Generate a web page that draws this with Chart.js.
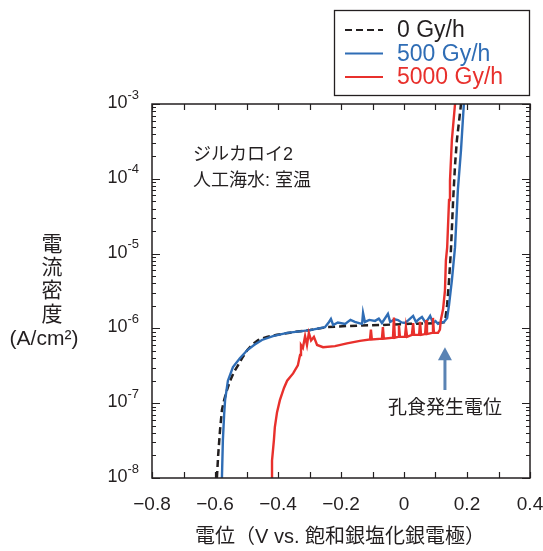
<!DOCTYPE html>
<html>
<head>
<meta charset="utf-8">
<script src="https://cdn.jsdelivr.net/npm/chart.js@4/dist/chart.umd.min.js"></script>
<style>
  html, body { margin: 0; padding: 0; background: #fff; }
  #wrap { width: 543px; height: 551px; }
</style>
</head>
<body>
<div id="wrap"><canvas id="kurve" width="543" height="551"></canvas></div>
<script>
// Zircaloy-2 anodic polarization curves (potential V vs Ag/AgCl, current density A/cm2)
const seriesLabels = ['0 Gy/h', '500 Gy/h', '5000 Gy/h'];

// 0 Gy/h
const potential0 = [-0.594, -0.590, -0.584, -0.578, -0.571, -0.562, -0.552, -0.540, -0.527, -0.514,
  -0.498, -0.483, -0.463, -0.435, -0.403, -0.346, -0.298, -0.244, -0.171, -0.076,
  0.019, 0.114, 0.130, 0.137, 0.143, 0.149, 0.156, 0.162, 0.168, 0.181];
const current0 = [1.0e-8, 2.0e-8, 4.4e-8, 8.1e-8, 1.1e-7, 1.5e-7, 2.0e-7, 2.6e-7, 3.2e-7, 4.0e-7,
  5.1e-7, 6.0e-7, 7.0e-7, 7.7e-7, 8.2e-7, 9.0e-7, 9.5e-7, 1.04e-6, 1.08e-6, 1.11e-6,
  1.15e-6, 1.18e-6, 1.22e-6, 2.06e-6, 4.4e-6, 1.12e-5, 5.2e-5, 1.53e-4, 3.3e-4, 1.0e-3];

// 500 Gy/h
const potential500 = [-0.578, -0.575, -0.571, -0.568, -0.559, -0.543, -0.521, -0.498, -0.476, -0.451,
  -0.416, -0.371, -0.298, -0.251, -0.238, -0.232, -0.225, -0.210, -0.187, -0.170,
  -0.156, -0.140, -0.133, -0.130, -0.124, -0.110, -0.092, -0.080, -0.070, -0.051,
  -0.044, -0.030, -0.019, -0.008, 0.003, 0.015, 0.029, 0.038, 0.048, 0.057,
  0.067, 0.075, 0.083, 0.092, 0.100, 0.108, 0.120, 0.127, 0.137, 0.143,
  0.152, 0.162, 0.171, 0.181, 0.190];
const current500 = [1.0e-8, 3.2e-8, 7.0e-8, 1.1e-7, 2.0e-7, 3.05e-7, 4.0e-7, 5.1e-7, 6.0e-7, 7.0e-7,
  7.9e-7, 8.7e-7, 9.5e-7, 1.04e-6, 1.22e-6, 1.34e-6, 1.11e-6, 1.2e-6, 1.15e-6, 1.3e-6,
  1.22e-6, 1.17e-6, 1.15e-6, 1.61e-6, 1.22e-6, 1.3e-6, 1.26e-6, 1.35e-6, 1.18e-6, 1.56e-6,
  1.22e-6, 1.32e-6, 1.29e-6, 1.2e-6, 1.18e-6, 1.3e-6, 1.47e-6, 1.22e-6, 1.34e-6, 1.42e-6,
  1.22e-6, 1.3e-6, 1.47e-6, 1.18e-6, 1.25e-6, 1.15e-6, 1.2e-6, 1.22e-6, 1.38e-6, 2.06e-6,
  4.4e-6, 1.22e-5, 7.1e-5, 2.43e-4, 1.0e-3];

// 5000 Gy/h
const potential5000 = [-0.419, -0.419, -0.413, -0.410, -0.403, -0.394, -0.381, -0.371, -0.352, -0.337,
  -0.330, -0.327, -0.321, -0.314, -0.308, -0.302, -0.295, -0.286, -0.276, -0.257,
  -0.219, -0.181, -0.140, -0.108, -0.105, -0.102, -0.070, -0.067, -0.064, -0.035,
  -0.032, -0.029, -0.019, -0.016, -0.013, 0.003, 0.006, 0.010, 0.025, 0.029,
  0.032, 0.048, 0.051, 0.054, 0.067, 0.070, 0.073, 0.089, 0.092, 0.095,
  0.108, 0.114, 0.117, 0.124, 0.130, 0.133, 0.137, 0.143, 0.146, 0.152, 0.162];
const current5000 = [1.0e-8, 1.7e-8, 3.2e-8, 4.8e-8, 7.6e-8, 1.1e-7, 1.6e-7, 2.0e-7, 2.5e-7, 3.2e-7,
  4.4e-7, 6.0e-7, 5.5e-7, 7.9e-7, 6.0e-7, 8.7e-7, 6.9e-7, 7.7e-7, 6.0e-7, 5.6e-7,
  5.8e-7, 6.3e-7, 6.8e-7, 7.1e-7, 9.6e-7, 7.1e-7, 7.3e-7, 1.04e-6, 7.3e-7, 7.5e-7,
  1.4e-6, 7.5e-7, 7.7e-7, 1.1e-6, 7.7e-7, 7.7e-7, 1.04e-6, 7.7e-7, 8.2e-7, 1.18e-6,
  8.2e-7, 8.2e-7, 1.22e-6, 8.2e-7, 8.4e-7, 1.29e-6, 8.4e-7, 8.7e-7, 1.38e-6, 8.7e-7,
  8.7e-7, 9.6e-7, 1.3e-6, 1.8e-6, 3.2e-6, 8.1e-6, 1.2e-5, 5.2e-5, 9.5e-5, 3.3e-4, 1.0e-3];

const xTicks = [-0.8, -0.6, -0.4, -0.2, 0, 0.2, 0.4];
const yExponents = [-8, -7, -6, -5, -4, -3];

// arrow for pitting potential
const pitPotential = 0.13;
const arrowTip = 5.6e-7;
const arrowTail = 1.5e-7;
const pitLabelY = 8.5e-8;

const ink = '#231f20';
const blue = '#2f6db5';
const red = '#e8302c';
const arrowCol = '#5a83b4';
const fam = '"Liberation Sans", "Noto Sans CJK JP", sans-serif';

function punkte(xs, ys) {
    return xs.map((v, i) => ({ x: v, y: ys[i] }));
}

const rahmen = {
    id: 'rahmen',
    afterDraw(chart) {
        const ctx = chart.ctx;
        const a = chart.chartArea;
        const xs = chart.scales.x;
        const ys = chart.scales.y;
        ctx.save();

        // frame
        ctx.strokeStyle = ink;
        ctx.lineWidth = 1.5;
        ctx.strokeRect(a.left, a.top, a.right - a.left, a.bottom - a.top);

        // x ticks, inward, every 0.1
        ctx.lineWidth = 1.2;
        ctx.beginPath();
        for (let i = 0; i <= 12; i++) {
            const px = Math.round(xs.getPixelForValue(-0.8 + i * 0.1)) + 0.5;
            ctx.moveTo(px, a.bottom); ctx.lineTo(px, a.bottom - 6);
            ctx.moveTo(px, a.top); ctx.lineTo(px, a.top + 6);
        }
        // y ticks, log minor
        yExponents.forEach(e => {
            for (let k = 1; k < 10; k++) {
                if (e === -3 && k > 1) break;
                const py = Math.round(ys.getPixelForValue(k * Math.pow(10, e))) + 0.5;
                const len = k === 1 ? 8 : 4;
                ctx.moveTo(a.left, py); ctx.lineTo(a.left + len, py);
                ctx.moveTo(a.right, py); ctx.lineTo(a.right - len, py);
            }
        });
        ctx.stroke();

        // y tick labels 10^n
        ctx.fillStyle = ink;
        ctx.textBaseline = 'middle';
        ctx.textAlign = 'right';
        yExponents.forEach(e => {
            const py = ys.getPixelForValue(Math.pow(10, e));
            ctx.font = '13px ' + fam;
            const sup = '-' + Math.abs(e);
            const w = ctx.measureText(sup).width;
            ctx.fillText(sup, 139, py - 9);
            ctx.font = '18px ' + fam;
            ctx.fillText('10', 139 - w, py - 1);
        });

        // y title
        ctx.textAlign = 'center';
        ctx.font = '21px ' + fam;
        ['電', '流', '密', '度'].forEach((c, i) => ctx.fillText(c, 52, 245 + i * 23.3));
        ctx.font = '21px ' + fam;
        ctx.fillText('(A/cm²)', 44, 339);

        // x title
        ctx.font = '20px ' + fam;
        ctx.fillText('電位（V vs. 飽和銀塩化銀電極）', 340, 537);

        // note
        ctx.textAlign = 'left';
        ctx.font = '18px ' + fam;
        ctx.fillText('ジルカロイ2', 193, 155);
        ctx.fillText('人工海水: 室温', 193, 181);

        // pitting arrow
        const ax = xs.getPixelForValue(pitPotential);
        const tip = ys.getPixelForValue(arrowTip);
        const tail = ys.getPixelForValue(arrowTail);
        ctx.strokeStyle = arrowCol;
        ctx.fillStyle = arrowCol;
        ctx.lineWidth = 3;
        ctx.beginPath();
        ctx.moveTo(ax, tail); ctx.lineTo(ax, tip + 10);
        ctx.stroke();
        ctx.beginPath();
        ctx.moveTo(ax, tip); ctx.lineTo(ax - 7, tip + 13); ctx.lineTo(ax + 7, tip + 13);
        ctx.closePath(); ctx.fill();
        ctx.fillStyle = ink;
        ctx.textAlign = 'center';
        ctx.font = '19px ' + fam;
        ctx.fillText('孔食発生電位', ax, ys.getPixelForValue(pitLabelY));

        // legend box
        ctx.strokeStyle = ink;
        ctx.lineWidth = 1.3;
        ctx.strokeRect(334.5, 10.5, 195, 85);
        ctx.textAlign = 'left';
        ctx.font = '23px ' + fam;
        chart.data.datasets.forEach((ds, i) => {
            const ly = 30 + i * 23.5;
            ctx.strokeStyle = ds.borderColor;
            ctx.lineWidth = 2.2;
            ctx.setLineDash(ds.borderDash || []);
            ctx.beginPath();
            ctx.moveTo(345, ly); ctx.lineTo(383, ly);
            ctx.stroke();
            ctx.setLineDash([]);
            ctx.fillStyle = ds.borderColor;
            ctx.fillText(ds.label, 397, ly + 1);
        });
        ctx.restore();
    }
};

new Chart(document.getElementById('kurve'), {
    type: 'line',
    data: {
        datasets: [
            { label: seriesLabels[0], data: punkte(potential0, current0), borderColor: ink,
              borderDash: [7, 4], borderWidth: 2.5, order: 3 },
            { label: seriesLabels[1], data: punkte(potential500, current500), borderColor: blue,
              borderWidth: 2.4, order: 2 },
            { label: seriesLabels[2], data: punkte(potential5000, current5000), borderColor: red,
              borderWidth: 2.4, order: 1 }
        ]
    },
    options: {
        responsive: false,
        animation: false,
        events: [],
        elements: { point: { radius: 0 }, line: { tension: 0 } },
        layout: { padding: { top: 104, right: 13, left: 0, bottom: 0 } },
        plugins: { legend: { display: false }, tooltip: { enabled: false } },
        scales: {
            x: {
                type: 'linear',
                min: -0.8,
                max: 0.4,
                afterFit: s => { s.height = 73; s.paddingLeft = 0; s.paddingRight = 0; },
                afterBuildTicks: s => { s.ticks = xTicks.map(v => ({ value: v })); },
                grid: { display: false, drawTicks: false },
                border: { display: false },
                ticks: {
                    padding: 15,
                    color: ink,
                    font: { family: fam, size: 19 },
                    callback: v => Math.abs(v) < 1e-9 ? '0' : v.toFixed(1).replace('-', '−')
                }
            },
            y: {
                type: 'logarithmic',
                min: 1e-8,
                max: 1e-3,
                afterFit: s => { s.width = 152; s.paddingTop = 0; s.paddingBottom = 0; },
                grid: { display: false, drawTicks: false },
                border: { display: false },
                ticks: { display: false }
            }
        }
    },
    plugins: [rahmen]
});
</script>
</body>
</html>
